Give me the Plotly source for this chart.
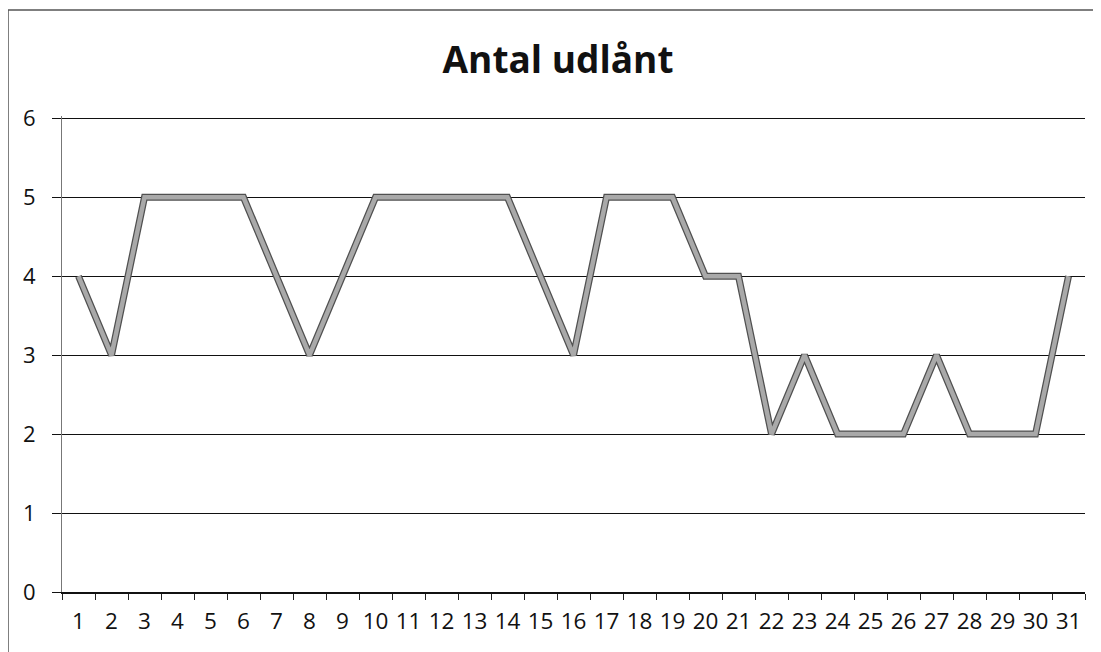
import plotly.graph_objects as go

days = [str(i) for i in range(1, 32)]
antal = [4, 3, 5, 5, 5, 5, 4, 3, 4, 5, 5, 5, 5, 5, 4, 3, 5, 5, 5, 4, 4, 2, 3, 2, 2, 2, 3, 2, 2, 2, 4]
y_ticks = [0, 1, 2, 3, 4, 5, 6]
title_text = "Antal udlånt"

# page body has an 8px margin, so the figure is sized to fit the viewport
W, H = 1093, 644
L, R, T, B = 54, 16, 108, 60
pw, ph = W - L - R, H - T - B

fig = go.Figure()
fig.add_trace(go.Scatter(x=days, y=antal, mode="lines",
                         line=dict(color="#505050", width=7), hoverinfo="skip", showlegend=False))
fig.add_trace(go.Scatter(x=days, y=antal, mode="lines",
                         line=dict(color="#a9a9a9", width=4.5), showlegend=False))

fig.update_layout(
    width=W, height=H,
    margin=dict(l=L, r=R, t=T, b=B, autoexpand=False),
    paper_bgcolor="white", plot_bgcolor="white",
    font=dict(family="Open Sans, sans-serif", color="#111"),
    title=dict(text="<b>" + title_text + "</b>", x=550 / W, xanchor="center",
               y=1 - 52 / H, yanchor="middle", font=dict(size=37, color="#111")),
    xaxis=dict(type="category", tickson="boundaries", ticks="outside", ticklen=6,
               tickcolor="#222", tickwidth=1, showline=True, linecolor="#111", linewidth=2,
               showgrid=False, tickfont=dict(size=22.5, color="#111"), tickangle=0,
               automargin=False, ticklabelstandoff=8, range=[-0.5, 30.5]),
    yaxis=dict(range=[0, 6.03], tickvals=y_ticks, ticks="outside", ticklen=9,
               tickcolor="#111", showline=True, linecolor="#777", linewidth=1,
               showgrid=True, gridcolor="#111", gridwidth=1.4, zeroline=False,
               automargin=False, tickfont=dict(size=22, color="#111"), ticklabelstandoff=12),
    shapes=[dict(type="rect", xref="paper", yref="paper",
                 x0=(0 - L) / pw, x1=(W + 20 - L) / pw,
                 y0=-(H + 20 - (H - B)) / ph, y1=1 + (T - 2) / ph,
                 line=dict(color="#555", width=1.5), fillcolor="rgba(0,0,0,0)", layer="below")],
)

fig.write_html("out.html")
